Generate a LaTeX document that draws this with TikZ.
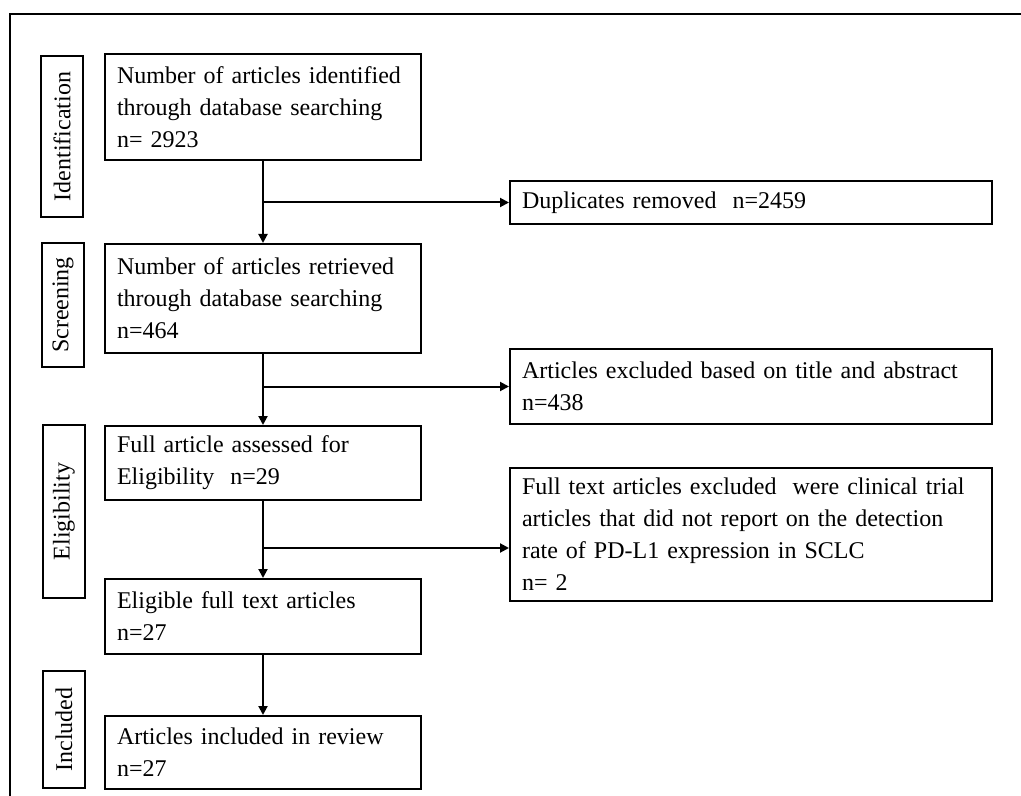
\documentclass[tikz,border=0pt]{standalone}
\usepackage{fontspec}
\setmainfont{Liberation Serif}
\usetikzlibrary{arrows.meta,positioning}
\tikzset{
  mainbox/.style={draw,line width=1pt,align=left,anchor=north west,
              font=\fontsize{12}{16}\selectfont,text width=146pt,
              inner xsep=6pt,inner ysep=0pt},
  exbox/.style={mainbox,text width=229pt},
  phasebox/.style={draw,line width=1pt,rotate=90,font=\fontsize{12}{16}\selectfont,
              minimum height=21pt,inner sep=0pt},
  arr/.style={-{Triangle[length=4.5pt,width=4.5pt]},line width=1pt}
}
\begin{document}
\begin{tikzpicture}[x=0.5pt,y=-0.5pt]
  % ---- page and outer frame ----
  \useasboundingbox (0,0) rectangle (1021,796);
  \clip (0,0) rectangle (1021,796);
  \draw[line width=1pt] (10,14) rectangle (1040,820);
  % ---- phase labels ----
  \node[phasebox,minimum width=80.5pt] (lid) at (62,136.5) {Identification};
  \node[phasebox,minimum width=62pt] (lscr) at (63,305) {Screening};
  \node[phasebox,minimum width=86.5pt] (lelig) at (64,511.5) {Eligibility};
  \node[phasebox,minimum width=58.5pt] (lincl) at (64,729.5) {Included};
  % ---- main column ----
  \node[mainbox,minimum height=53pt] (ident) at (104,53) {Number of articles identified\\ through database searching\\ n= 2923};
  \node[mainbox,minimum height=54.5pt] (screen) at (104,243) {Number of articles retrieved\\ through database searching\\ n=464};
  \node[mainbox,minimum height=37pt] (full) at (104,425) {Full article assessed for\\ Eligibility~ n=29};
  \node[mainbox,minimum height=37.5pt] (eligb) at (104,578) {Eligible full text articles\\ n=27};
  \node[mainbox,minimum height=36.5pt] (incl) at (104,715) {Articles included in review\\ n=27};
  % ---- exclusions ----
  \node[exbox,minimum height=21.5pt] (dup) at (509,180) {Duplicates removed~ n=2459};
  \node[exbox,minimum height=37.5pt] (exc1) at (509,348) {Articles excluded based on title and abstract\\ n=438};
  \node[exbox,minimum height=66.5pt] (exc2) at (509,467) {Full text articles excluded~ were clinical trial\\ articles that did not report on the detection\\ rate of PD-L1 expression in SCLC\\ n= 2};
  % trunk
  \draw[arr] (ident.south) -- (screen.north);
  \draw[arr] (screen.south) -- (full.north);
  \draw[arr] (full.south) -- (eligb.north);
  \draw[arr] (eligb.south) -- (incl.north);
  % side branches
  \draw[arr] (ident.south |- dup.west) -- (dup.west);
  \draw[arr] (screen.south |- exc1.west) -- (exc1.west);
  \coordinate (b3) at (262.5,548);
  \draw[arr] (b3) -- (b3 -| exc2.west);
\end{tikzpicture}
\end{document}
